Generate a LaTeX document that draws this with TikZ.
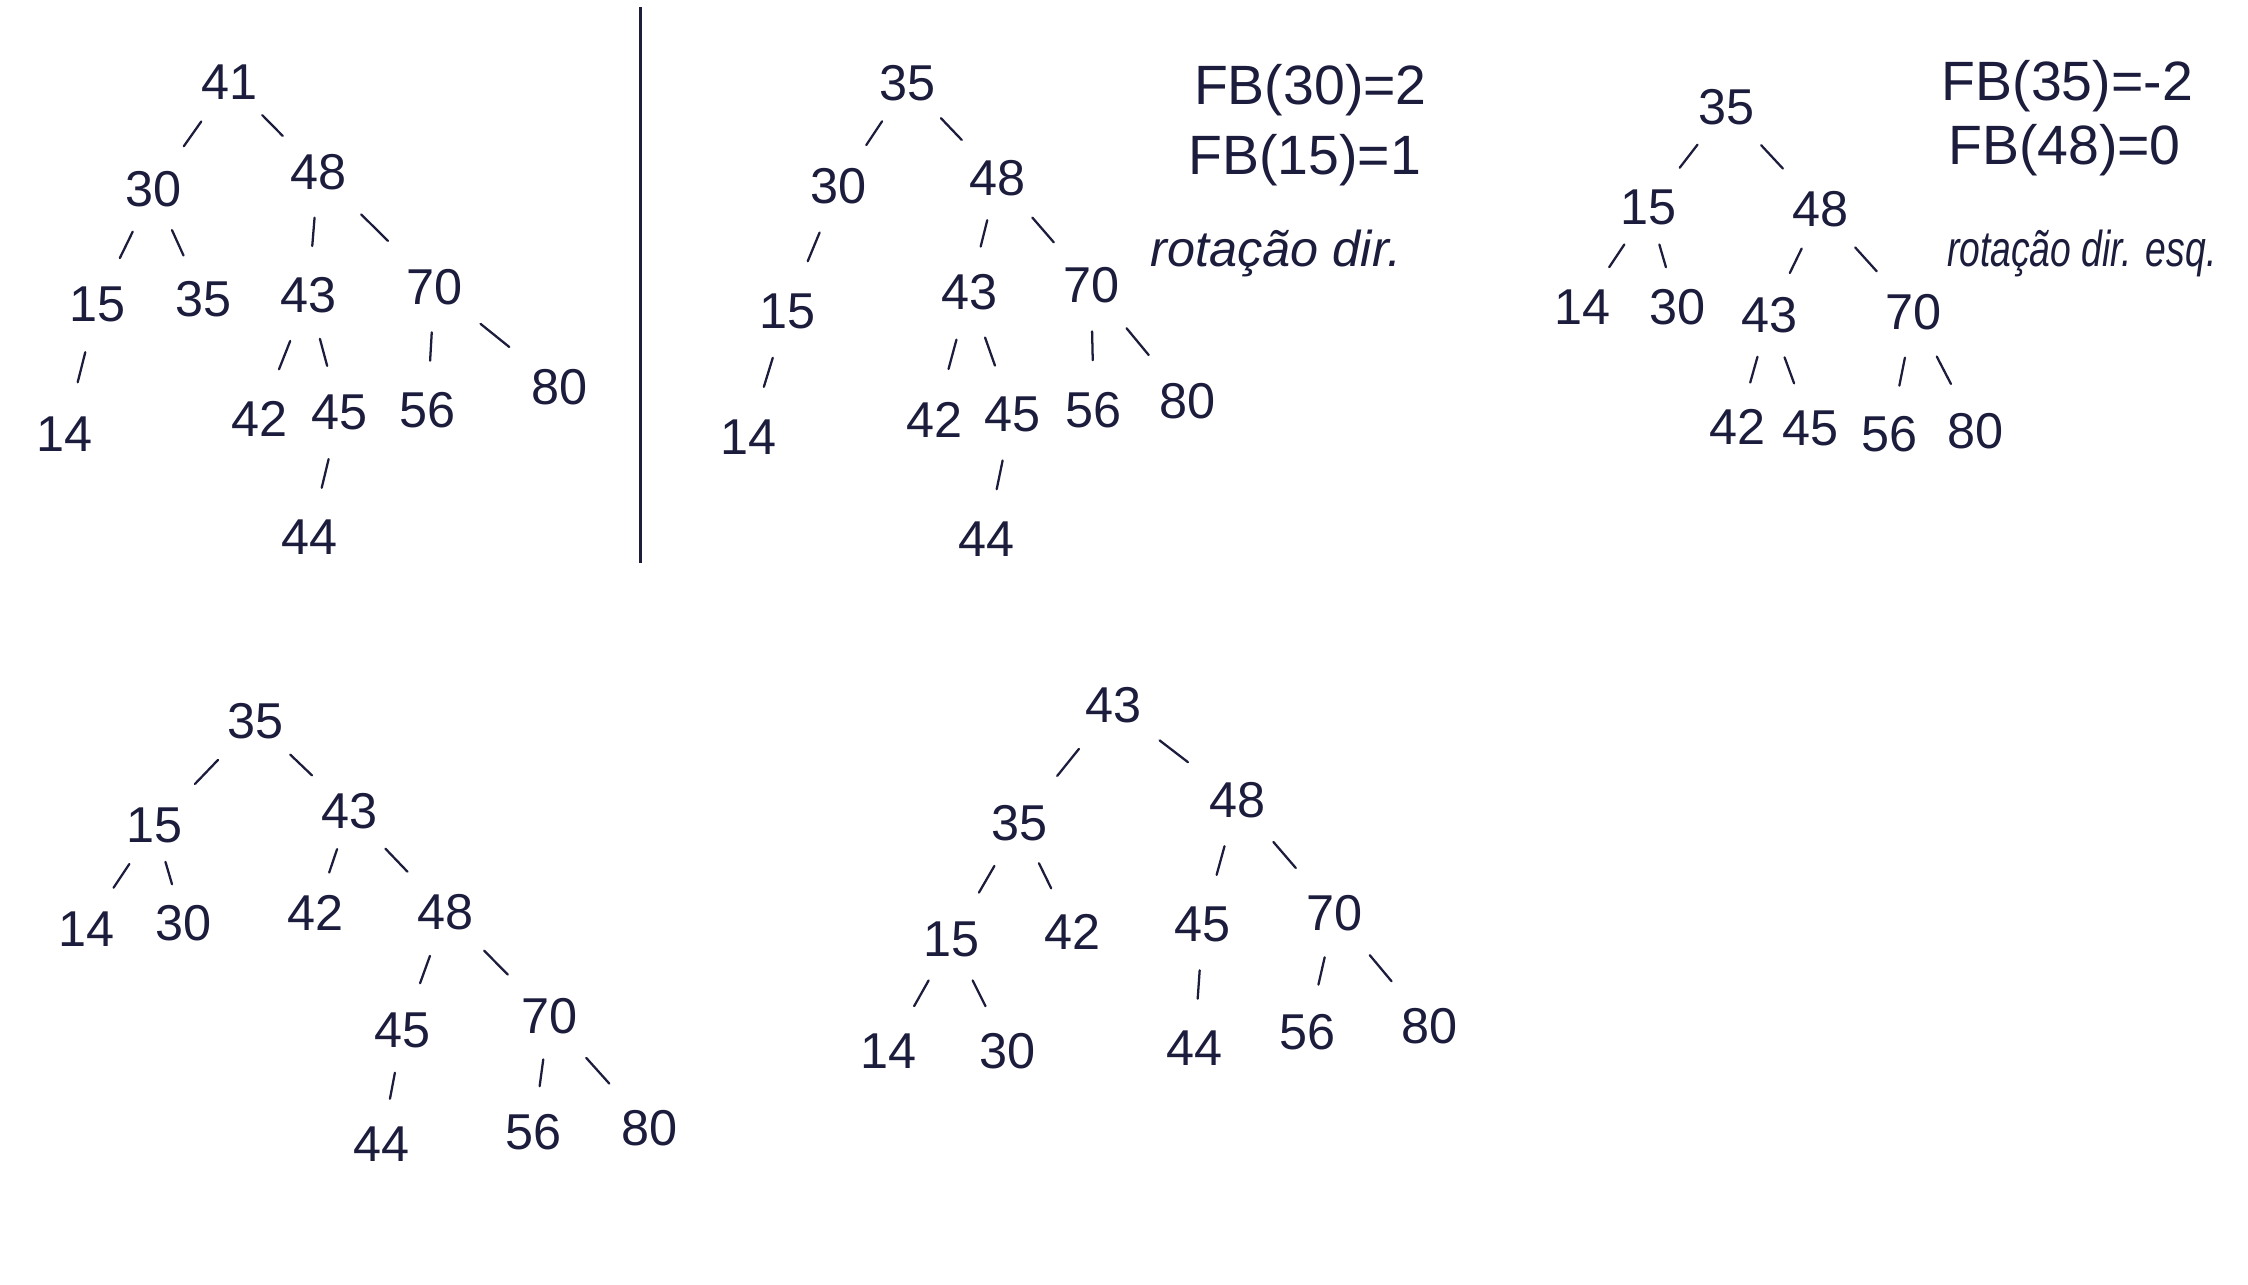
\documentclass[tikz,border=0pt]{standalone}
\usepackage{fontspec}
\setmainfont{Liberation Sans}
\usetikzlibrary{calc}
\begin{document}
\begin{tikzpicture}[x=0.02cm,y=-0.02cm,
  nd/.style={inner sep=1pt, text=inkc, font=\fontsize{20}{24}\selectfont},
  ed/.style={draw=inkc, line width=0.9pt, line cap=round},
  note/.style={text=inkc, font=\fontsize{22}{26}\selectfont, anchor=center},
  rot/.style={text=inkc, font=\fontsize{20}{24}\selectfont\itshape, anchor=center}]
\definecolor{inkc}{HTML}{1C1C3C}
\useasboundingbox (0,0) rectangle (1568,896);
\fill[white] (0,0) rectangle (1568,896);

% separator
\coordinate (sepT) at (447,5);
\coordinate (sepB) at (447,393);
\draw[inkc, line width=1.1pt] (sepT) -- (sepB);

% ---------- Tree 1 ----------
\node[nd] (a41) at (160,57) {41};
\node[nd] (a30) at (107,132) {30};
\node[nd] (a48) at (222,120) {48};
\node[nd] (a15) at (68,212) {15};
\node[nd] (a35) at (142,209) {35};
\node[nd] (a43) at (215,206) {43};
\node[nd] (a70) at (303,200) {70};
\node[nd] (a14) at (45,303) {14};
\node[nd] (a42) at (181,292) {42};
\node[nd] (a45) at (237,288) {45};
\node[nd] (a56) at (298,286) {56};
\node[nd] (a80) at (390,270) {80};
\node[nd] (a44) at (216,375) {44};
\foreach \p/\c in {a41/a30,a41/a48,a30/a15,a30/a35,a48/a43,a48/a70,a15/a14,a43/a42,a43/a45,a70/a56,a70/a80,a45/a44}
  \draw[ed] ($(\p)!0.37!(\c)$) -- ($(\p)!0.6!(\c)$);

% ---------- Tree 2 ----------
\node[nd] (b35) at (633,58) {35};
\node[nd] (b30) at (585,130) {30};
\node[nd] (b48) at (696,124) {48};
\node[nd] (b15) at (549,217) {15};
\node[nd] (b43) at (676,204) {43};
\node[nd] (b70) at (761,199) {70};
\node[nd] (b14) at (522,305) {14};
\node[nd] (b42) at (652,293) {42};
\node[nd] (b45) at (706,289) {45};
\node[nd] (b56) at (763,286) {56};
\node[nd] (b80) at (828,280) {80};
\node[nd] (b44) at (688,376) {44};
\foreach \p/\c in {b35/b30,b35/b48,b30/b15,b15/b14,b48/b43,b48/b70,b43/b42,b43/b45,b70/b56,b70/b80,b45/b44}
  \draw[ed] ($(\p)!0.37!(\c)$) -- ($(\p)!0.6!(\c)$);

\node[note] (n1) at (914,63) {FB(30)=2};
\node[note] (n2) at (910,112) {FB(15)=1};
\node[rot] (n3) at (890,177) {rotação dir.};

% ---------- Tree 3 ----------
\node[nd] (c35) at (1204,75) {35};
\node[nd] (c15) at (1150,145) {15};
\node[nd] (c48) at (1270,146) {48};
\node[nd] (c14) at (1104,214) {14};
\node[nd] (c30) at (1170,214) {30};
\node[nd] (c43) at (1234,220) {43};
\node[nd] (c70) at (1335,218) {70};
\node[nd] (c42) at (1212,298) {42};
\node[nd] (c45) at (1263,299) {45};
\node[nd] (c56) at (1318,303) {56};
\node[nd] (c80) at (1378,301) {80};
\foreach \p/\c in {c35/c15,c35/c48,c15/c14,c15/c30,c48/c43,c48/c70,c43/c42,c43/c45,c70/c56,c70/c80}
  \draw[ed] ($(\p)!0.37!(\c)$) -- ($(\p)!0.6!(\c)$);

\node[note] (m1) at (1442,60) {FB(35)=-2};
\node[note] (m2) at (1440,105) {FB(48)=0};
\node[rot] (m3) at (1452,177) {\scalebox{0.74}[1]{rotação dir. esq.}};

% ---------- Tree 4 ----------
\node[nd] (d35) at (178,503) {35};
\node[nd] (d15) at (108,576) {15};
\node[nd] (d43) at (244,566) {43};
\node[nd] (d14) at (60,648) {14};
\node[nd] (d30) at (128,644) {30};
\node[nd] (d42) at (220,637) {42};
\node[nd] (d48) at (311,636) {48};
\node[nd] (d45) at (281,719) {45};
\node[nd] (d70) at (383,709) {70};
\node[nd] (d44) at (266,798) {44};
\node[nd] (d56) at (372,790) {56};
\node[nd] (d80) at (453,787) {80};
\foreach \p/\c in {d35/d15,d35/d43,d15/d14,d15/d30,d43/d42,d43/d48,d48/d45,d48/d70,d45/d44,d70/d56,d70/d80}
  \draw[ed] ($(\p)!0.37!(\c)$) -- ($(\p)!0.6!(\c)$);

% ---------- Tree 5 ----------
\node[nd] (e43) at (777,492) {43};
\node[nd] (e35) at (711,574) {35};
\node[nd] (e48) at (863,558) {48};
\node[nd] (e15) at (664,655) {15};
\node[nd] (e42) at (748,650) {42};
\node[nd] (e45) at (839,645) {45};
\node[nd] (e70) at (931,637) {70};
\node[nd] (e14) at (620,733) {14};
\node[nd] (e30) at (703,733) {30};
\node[nd] (e44) at (833,731) {44};
\node[nd] (e56) at (912,720) {56};
\node[nd] (e80) at (997,716) {80};
\foreach \p/\c in {e43/e35,e43/e48,e35/e15,e35/e42,e15/e14,e15/e30,e48/e45,e48/e70,e45/e44,e70/e56,e70/e80}
  \draw[ed] ($(\p)!0.37!(\c)$) -- ($(\p)!0.6!(\c)$);
\end{tikzpicture}
\end{document}
